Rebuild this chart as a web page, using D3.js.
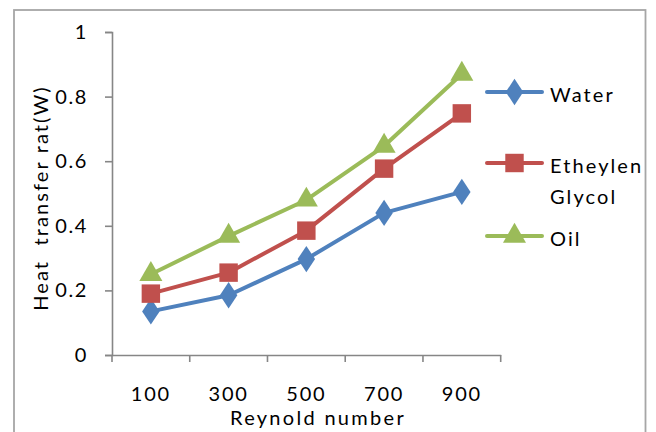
<!DOCTYPE html>
<html><head><meta charset="utf-8">
<script src="https://cdn.jsdelivr.net/npm/d3@7/dist/d3.min.js"></script>
<style>
html,body{margin:0;padding:0;background:#fff;}
svg{display:block;}
text{font-family:Lato,"Open Sans",sans-serif;fill:#000;}
</style></head>
<body>
<script>
const categories = ["100","300","500","700","900"];
const water = [0.135, 0.185, 0.297, 0.44, 0.505];
const glycol = [0.19, 0.255, 0.385, 0.577, 0.748];
const oil = [0.25, 0.368, 0.48, 0.647, 0.87];
const yTicks = [0, 0.2, 0.4, 0.6, 0.8, 1];
const seriesNames = ["Water", "Etheylen Glycol", "Oil"];
const xTitle = "Reynold number";
const yTitle = "Heat  transfer rat(W)";

const W = 656, H = 432;
const svg = d3.select("body").append("svg").attr("width", W).attr("height", H);

// outer chart border
svg.append("rect").attr("x", 14).attr("y", 10).attr("width", 631.5).attr("height", 440)
  .attr("fill", "#fff").attr("stroke", "#a6a6a6").attr("stroke-width", 1.8);

const x = d3.scaleBand().domain(categories).range([112, 500.7]);
const y = d3.scaleLinear().domain([0, 1]).range([355, 32]);
const axisColor = "#868686";

// Y axis
const gy = svg.append("g").attr("transform", "translate(112,0)")
  .call(d3.axisLeft(y).tickValues(yTicks).tickSize(7).tickPadding(17)
    .tickFormat(d => d3.format("")(d)));
gy.select(".domain").attr("stroke", axisColor).attr("stroke-width", 1.6);
gy.selectAll(".tick line").attr("stroke", axisColor).attr("stroke-width", 1.6);
gy.selectAll(".tick text").attr("font-size", 20).attr("font-family", "Lato")
  .style("letter-spacing", "1.6px").attr("fill", "#000");

// X axis
const gx = svg.append("g").attr("transform", "translate(0,355)")
  .call(d3.axisBottom(x).tickSize(0).tickPadding(0));
gx.select(".domain").attr("stroke", axisColor).attr("stroke-width", 1.6);
gx.selectAll(".tick line").remove();
gx.selectAll(".tick text").attr("font-size", 20).attr("font-family", "Lato")
  .attr("dy", null).attr("y", 46).style("letter-spacing", "1.8px").attr("fill", "#000");
// boundary tick marks between categories
const bounds = categories.map(c => x(c)).concat([x.range()[1]]);
gx.selectAll(".btick").data(bounds).enter().append("line")
  .attr("x1", d => d).attr("x2", d => d).attr("y1", 0).attr("y2", 7)
  .attr("stroke", axisColor).attr("stroke-width", 1.6);

// axis titles
svg.append("text").attr("x", 318).attr("y", 425).attr("text-anchor", "middle")
  .attr("font-size", 20).style("letter-spacing", "2.3px").text(xTitle);
svg.append("text").attr("transform", "translate(48,198) rotate(-90)")
  .attr("text-anchor", "middle").attr("font-size", 20).style("white-space", "pre")
  .style("letter-spacing", "2.1px").text(yTitle);

const series = [
  {name: seriesNames[0], values: water, color: "#4f81bd", shape: d3.symbolDiamond, size: 200},
  {name: seriesNames[1], values: glycol, color: "#c0504d", shape: d3.symbolSquare, size: 340},
  {name: seriesNames[2], values: oil, color: "#9bbb59", shape: d3.symbolTriangle, size: 230}
];
const cx = c => x(c) + x.bandwidth() / 2;
const line = d3.line().x((d, i) => cx(categories[i])).y(d => y(d));

series.forEach(s => {
  svg.append("path").datum(s.values).attr("d", line).attr("fill", "none")
    .attr("stroke", s.color).attr("stroke-width", 4).attr("stroke-linejoin", "round");
  svg.selectAll(null).data(s.values).enter().append("path")
    .attr("d", d3.symbol().type(s.shape).size(s.size))
    .attr("transform", (d, i) => `translate(${cx(categories[i])},${y(d)})` + (s.shape === d3.symbolDiamond ? " scale(1.15,1)" : ""))
    .attr("fill", s.color);
});

// legend
const legendY = [92, 163, 236];
series.forEach((s, i) => {
  const ly = legendY[i];
  svg.append("line").attr("x1", 487).attr("x2", 542).attr("y1", ly).attr("y2", ly)
    .attr("stroke", s.color).attr("stroke-width", 4).attr("stroke-linecap", "round");
  svg.append("path").attr("d", d3.symbol().type(s.shape).size(s.size))
    .attr("transform", `translate(514.5,${ly})` + (s.shape === d3.symbolDiamond ? " scale(1.15,1)" : ""))
    .attr("fill", s.color);
  const words = s.name === "Etheylen Glycol" ? ["Etheylen", "Glycol"] : [s.name];
  words.forEach((w, j) => {
    svg.append("text").attr("x", 550).attr("y", ly + 10 + j * 31).attr("font-size", 20)
      .style("letter-spacing", "2.1px").text(w);
  });
});
</script>
</body></html>
